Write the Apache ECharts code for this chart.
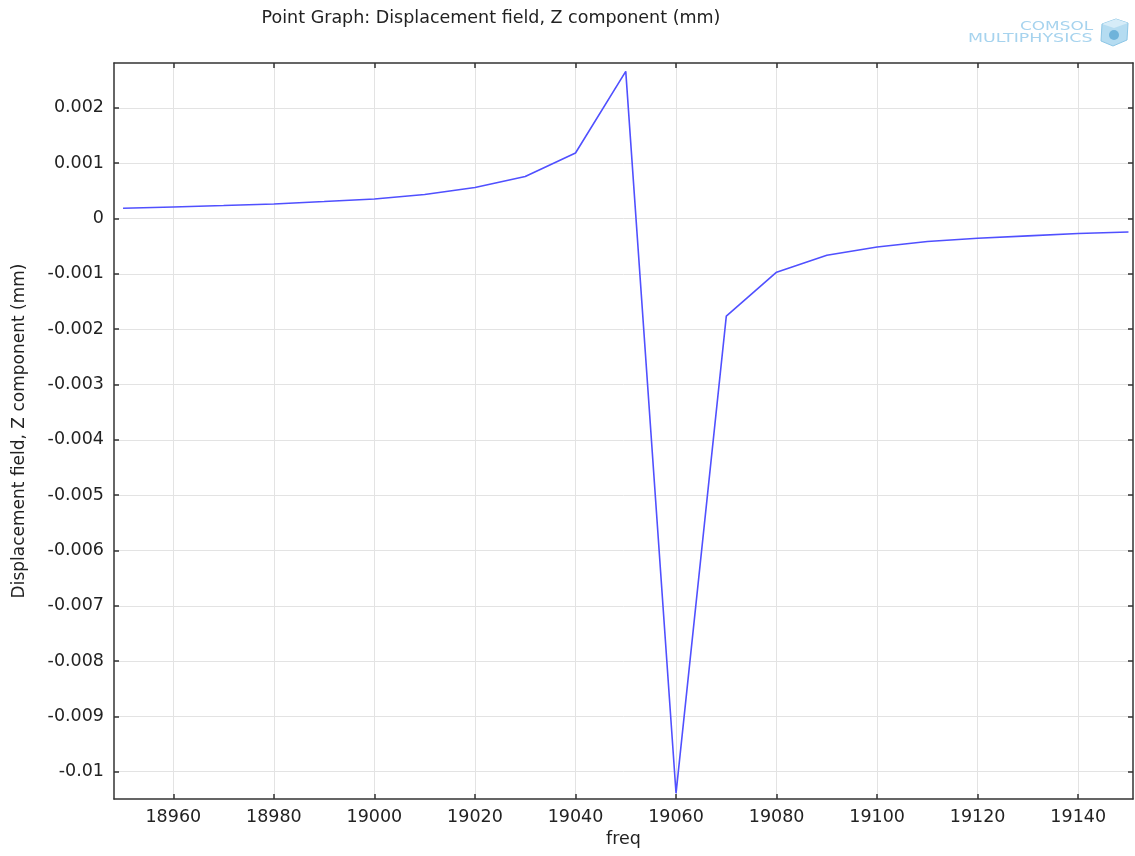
<!DOCTYPE html>
<html>
<head>
<meta charset="utf-8">
<script src="https://cdn.jsdelivr.net/npm/echarts@6/dist/echarts.min.js"></script>
<style>
html,body{margin:0;padding:0;background:#fff;}
#chart{width:1135px;height:856px;}
</style>
</head>
<body>
<div id="chart"></div>
<script>
const freq = [18950, 18960, 18970, 18980, 18990, 19000, 19010, 19020, 19030, 19040, 19050,
              19060, 19070, 19080, 19090, 19100, 19110, 19120, 19130, 19140, 19150];
const dispZ = [0.000186, 0.00021, 0.000235, 0.000264, 0.000307, 0.000354, 0.000434, 0.00056, 0.00076, 0.001185, 0.00266,
               -0.01039, -0.001765, -0.00097, -0.000663, -0.000513, -0.000416, -0.000356, -0.000314, -0.000271, -0.000242];
const xTicks = [18960, 18980, 19000, 19020, 19040, 19060, 19080, 19100, 19120, 19140];
const xTickLabels = ['18960', '18980', '19000', '19020', '19040', '19060', '19080', '19100', '19120', '19140'];
const yTicks = [0.002, 0.001, 0, -0.001, -0.002, -0.003, -0.004, -0.005, -0.006, -0.007, -0.008, -0.009, -0.01];
const yTickLabels = ['0.002', '0.001', '0', '-0.001', '-0.002', '-0.003', '-0.004', '-0.005', '-0.006', '-0.007', '-0.008', '-0.009', '-0.01'];
const titleText = 'Point Graph: Displacement field, Z component (mm)';
const xName = 'freq';
const yName = 'Displacement field, Z component (mm)';
const logoTop = 'COMSOL';
const logoBottom = 'MULTIPHYSICS';

const FONT = 'DejaVu Sans';
const TXT = '#222';
const AX = '#333';
const FS = 17.5;
const X_MIN = 18948.2, X_MAX = 19150.9;
const Y_MIN = -0.010493, Y_MAX = 0.002812;

function lookup(ticks, labels, v) {
  for (let i = 0; i < ticks.length; i++) if (Math.abs(ticks[i] - v) < 1e-9) return labels[i];
  return String(v);
}

const chart = echarts.init(document.getElementById('chart'), null, {renderer: 'canvas'});

const baseX = {
  type: 'value', min: X_MIN, max: X_MAX,
  axisLine: {show: true, onZero: false, lineStyle: {color: AX, width: 1.5}},
  axisTick: {show: true, inside: true, length: 5, customValues: xTicks, lineStyle: {color: AX, width: 1.5}},
};
const baseY = {
  type: 'value', min: Y_MIN, max: Y_MAX,
  axisLine: {show: true, onZero: false, lineStyle: {color: AX, width: 1.5}},
  axisTick: {show: true, inside: true, length: 5, customValues: yTicks, lineStyle: {color: AX, width: 1.5}},
};

chart.setOption({
  animation: false,
  backgroundColor: '#fff',
  title: {
    text: titleText, left: 486, top: 4, textAlign: 'center',
    textStyle: {fontFamily: FONT, fontSize: 17.5, fontWeight: 'normal', color: TXT}
  },
  grid: {left: 114, right: 2, top: 63, bottom: 57, containLabel: false},
  xAxis: [
    Object.assign({}, baseX, {
      position: 'bottom',
      name: xName, nameLocation: 'middle', nameGap: 31,
      nameTextStyle: {fontFamily: FONT, fontSize: FS, color: TXT},
      axisLabel: {show: true, customValues: xTicks, margin: 9, fontFamily: FONT, fontSize: FS, color: TXT,
                  formatter: v => lookup(xTicks, xTickLabels, v)},
      splitLine: {show: true, lineStyle: {color: '#e3e3e3', width: 1}}
    }),
    Object.assign({}, baseX, {
      position: 'top',
      axisLabel: {show: false},
      splitLine: {show: false}
    })
  ],
  yAxis: [
    Object.assign({}, baseY, {
      position: 'left',
      name: yName, nameLocation: 'middle', nameGap: 86, nameRotate: 90,
      nameTextStyle: {fontFamily: FONT, fontSize: 17, color: TXT},
      axisLabel: {show: true, customValues: yTicks, margin: 10, fontFamily: FONT, fontSize: FS, color: TXT,
                  formatter: v => lookup(yTicks, yTickLabels, v)},
      splitLine: {show: true, lineStyle: {color: '#e3e3e3', width: 1}}
    }),
    Object.assign({}, baseY, {
      position: 'right',
      axisLabel: {show: false},
      splitLine: {show: false}
    })
  ],
  graphic: [
    {type: 'text', x: 1020, y: 20, scaleX: 1.3, originX: 0, originY: 0,
     style: {text: logoTop, x: 0, y: 0, fontFamily: FONT, fontSize: 13, fill: '#a6d3ee', textVerticalAlign: 'top'}},
    {type: 'text', x: 968, y: 32, scaleX: 1.34, originX: 0, originY: 0,
     style: {text: logoBottom, x: 0, y: 0, fontFamily: FONT, fontSize: 13, fill: '#a6d3ee', textVerticalAlign: 'top'}},
    {type: 'polygon', shape: {points: [[1102, 24], [1116, 19], [1128, 23], [1127, 40], [1113, 46], [1101, 41]]},
     style: {fill: '#b5dcf1', stroke: '#8cc6e6', lineWidth: 1}},
    {type: 'polygon', shape: {points: [[1102, 24], [1116, 19], [1128, 23], [1114, 28]]},
     style: {fill: '#d6ecf8'}},
    {type: 'circle', shape: {cx: 1114, cy: 35, r: 5}, style: {fill: '#6fb3da'}}
  ],
  series: [{
    type: 'line',
    xAxisIndex: 0, yAxisIndex: 0,
    data: freq.map((f, i) => [f, dispZ[i]]),
    showSymbol: false,
    lineStyle: {color: '#5050ff', width: 1.6},
    clip: true
  }]
});
</script>
</body>
</html>
